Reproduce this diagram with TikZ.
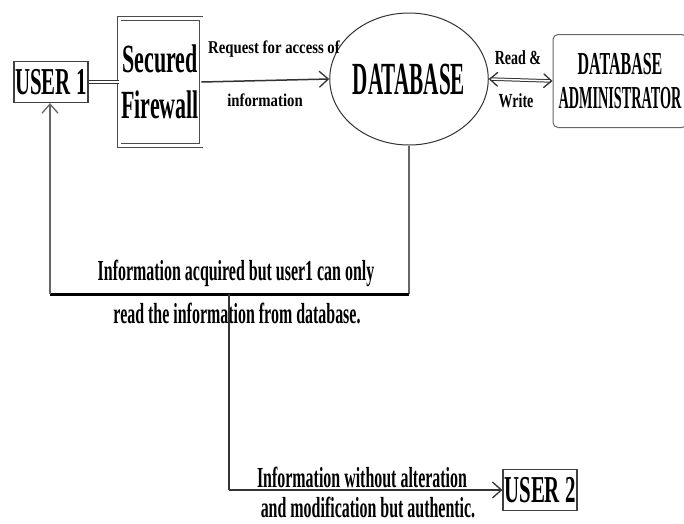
\documentclass[tikz,border=0pt]{standalone}
\usepackage{fontspec}
\usetikzlibrary{arrows.meta,shapes.geometric}
\newfontfamily\fbig[FakeStretch=0.55]{Liberation Serif}
\newfontfamily\fdb[FakeStretch=0.46]{Liberation Serif}
\newfontfamily\fadm[FakeStretch=0.5]{Liberation Serif}
\newfontfamily\fadmn[FakeStretch=0.445]{Liberation Serif}
\newfontfamily\fsmall[FakeStretch=0.82]{Liberation Serif}
\newfontfamily\frw[FakeStretch=0.7]{Liberation Serif}
\begin{document}
\begin{tikzpicture}[x=1pt,y=-1pt,
  boxuser/.style={draw=black!75, line width=1.3pt, minimum width=74pt, minimum height=41pt, inner sep=0pt, font=\fbig\bfseries\fontsize{38}{38}\selectfont},
  fwbox/.style={draw=black!70, double, double distance=3pt, line width=0.9pt, minimum width=82pt, minimum height=127pt, inner sep=0pt, align=center, font=\fbig\bfseries\fontsize{40}{46}\selectfont},
  dbell/.style={ellipse, draw=black!80, line width=1pt, minimum width=150pt, minimum height=132pt, inner sep=0pt, font=\fdb\bfseries\fontsize{46}{46}\selectfont},
  admbox/.style={draw=black!60, rounded corners=5pt, line width=1pt, minimum width=134pt, minimum height=93pt, inner sep=0pt, align=center, font=\fadm\bfseries\fontsize{32}{34}\selectfont},
  smalllab/.style={inner sep=0pt, font=\fsmall\bfseries\fontsize{18}{18}\selectfont},
  rwlab/.style={inner sep=0pt, font=\frw\bfseries\fontsize{20}{20}\selectfont},
  midlab/.style={inner sep=0pt, font=\fbig\bfseries\fontsize{29}{29}\selectfont},
  conn/.style={line width=1.5pt, black!80},
  tip/.style={-{Straight Barb[length=9pt,width=16pt,line width=1.3pt]}},
]
\useasboundingbox (0,0) rectangle (684,523);
\node[boxuser] (user1) at (51,82) {USER 1};
\node[fwbox] (fw) at (160,82) {Secured\\Firewall};
\node[dbell] (db) at (409,79) {DATABASE};
\node[admbox] (adm) at (620,81) {DATABASE\\{\fadmn\bfseries ADMINISTRATOR}};
\node[boxuser] (user2) at (540,490) {USER 2};

\node[smalllab] (req) at (274,49) {Request for access of};
\node[smalllab] (inf) at (265,100) {information};
\node[rwlab] (rd) at (518,58) {Read \&};
\node[rwlab] (wr) at (516,101) {Write};
\node[midlab] (acq1) at (236,273) {Information acquired but user1 can only};
\node[midlab] (acq2) at (237,313) {read the information from database.};
\node[midlab] (alt1) at (362,477) {Information without alteration};
\node[midlab] (alt2) at (368,507) {and modification but authentic.};

\coordinate (j1) at (409,294);
\coordinate (j2) at (50,294);
\coordinate (j3) at (229,294);
\coordinate (j4) at (229,490);

\draw[black!80, double, double distance=1.5pt, line width=1pt] (user1.east) -- (fw.west);
\draw[conn, tip] (fw.east) -- (db.west);
\draw[black!80, double, double distance=1.5pt, line width=1pt, {Straight Barb[length=8pt,width=14pt,line width=1.3pt]}-{Straight Barb[length=8pt,width=14pt,line width=1.3pt]}] (db.east) -- (adm.west);
\draw[conn, black!60] (db.south) -- (j1);
\draw[line width=3pt] (j1) -- (j2);
\draw[conn, black!60, tip] (j2) -- (j2 |- user1.south);
\draw[conn] (j3) -- (j4);
\draw[conn, tip] (j4) -- (user2.west);
\end{tikzpicture}
\end{document}
